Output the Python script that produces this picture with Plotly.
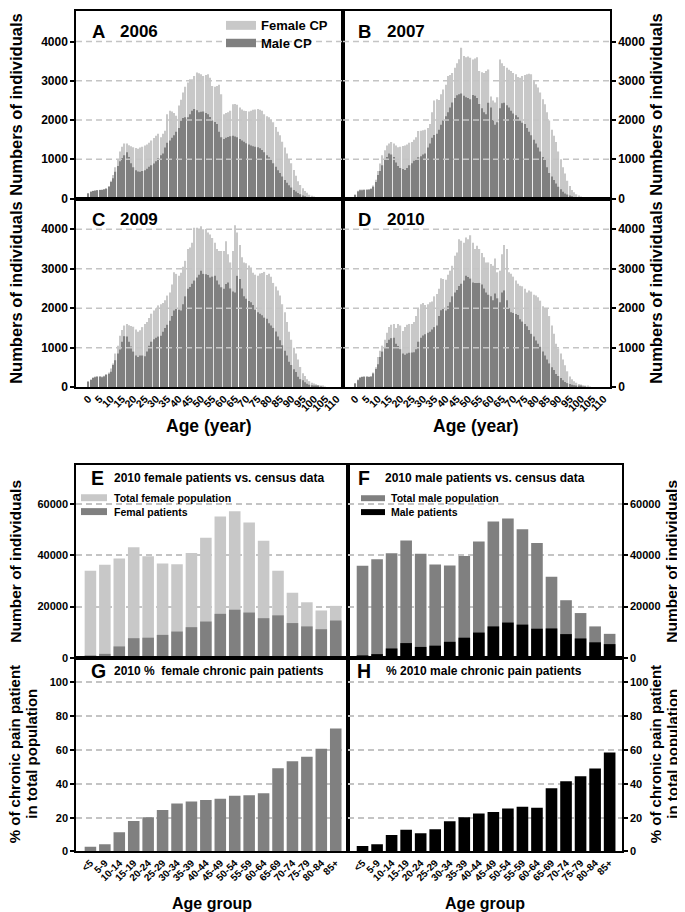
import plotly.graph_objects as go

W, H = 685, 912
FONT = "Liberation Sans, Arial, sans-serif"

# ---------------- data ----------------
ages = list(range(111))
age_ticks = list(range(0, 111, 5))

female_2006 = [140, 180, 200, 210, 220, 225, 230, 240, 260, 320,
               450, 600, 800, 1000, 1200, 1320, 1400, 1400, 1360, 1330,
               1310, 1290, 1270, 1300, 1320, 1350, 1380, 1420, 1480, 1540,
               1600, 1650, 1560, 1650, 1730, 2150, 2240, 2220, 2180, 2110,
               2370, 2520, 2700, 2850, 2960, 3040, 3040, 3120, 3210, 3190,
               3170, 3120, 3150, 3170, 3080, 2870, 2850, 2870, 2900, 2660,
               2150, 2180, 2200, 2240, 2400, 2410, 2390, 2320, 2270, 2240,
               2230, 2220, 2240, 2260, 2270, 2280, 2260, 2240, 2150, 2100,
               2070, 2000, 1945, 1820, 1700, 1610, 1450, 1300, 1145, 1000,
               900, 725, 580, 440, 345, 260, 190, 150, 95, 70,
               50, 35, 25, 15, 8, 0, 0, 0, 0, 0, 0]
male_2006 = [130, 170, 190, 200, 210, 215, 220, 230, 250, 300,
             420, 520, 680, 830, 950, 1030, 1100, 1180, 1060, 900,
             800, 720, 690, 680, 700, 720, 760, 810, 850, 890,
             950, 1030, 1100, 1150, 1300, 1420, 1480, 1550, 1610, 1700,
             1800, 1990, 2050, 2070, 2070, 2150, 2240, 2280, 2250, 2200,
             2210, 2215, 2180, 2150, 2080, 1990, 1950, 1900, 1700, 1560,
             1520, 1550, 1570, 1590, 1600, 1580, 1560, 1520, 1480, 1450,
             1410, 1380, 1350, 1330, 1320, 1310, 1280, 1240, 1180, 1100,
             1050, 980, 900, 810, 720, 650, 560, 470, 400, 340,
             280, 220, 180, 140, 110, 80, 60, 40, 30, 20,
             10, 6, 3, 0, 0, 0, 0, 0, 0, 0, 0]

female_2007 = [110, 200, 230, 230, 235, 240, 245, 260, 330, 480,
               700, 890, 1100, 1230, 1350, 1400, 1440, 1400, 1350, 1310,
               1320, 1340, 1350, 1380, 1420, 1440, 1500, 1560, 1720, 1730,
               1740, 1750, 1800, 1900, 2200, 2500, 2530, 2510, 2660, 2780,
               2900, 3125, 3150, 3200, 3330, 3450, 3550, 3840, 3630, 3600,
               3620, 3590, 3545, 3570, 3600, 3250, 3220, 3200, 3250, 3290,
               2600, 2500, 2450, 2580, 3545, 3450, 3380, 3330, 3280, 3250,
               3200, 3170, 3100, 3080, 3120, 3150, 3170, 3180, 3170, 3000,
               2910, 2830, 2700, 2530, 2400, 2200, 1990, 1750, 1600, 1440,
               1200, 1000, 800, 640, 450, 320, 220, 160, 110, 75,
               50, 30, 15, 8, 0, 0, 0, 0, 0, 0, 0]
male_2007 = [90, 180, 210, 210, 215, 220, 225, 240, 300, 420,
             600, 700, 850, 980, 1060, 1145, 1120, 1060, 920, 830,
             780, 750, 725, 780, 850, 900, 960, 1000, 1050, 1080,
             1120, 1150, 1300, 1400, 1550, 1620, 1650, 1750, 1880, 1990,
             2100, 2200, 2320, 2450, 2560, 2630, 2660, 2680, 2620, 2580,
             2560, 2530, 2640, 2620, 2560, 2410, 2300, 2200, 2150, 2440,
             2320, 2000, 1880, 1945, 2300, 2430, 2440, 2380, 2320, 2240,
             2170, 2120, 2070, 1980, 1930, 1900, 1800, 1700, 1610, 1500,
             1400, 1300, 1200, 1060, 980, 800, 650, 560, 470, 380,
             300, 235, 170, 130, 100, 75, 55, 40, 25, 15,
             8, 4, 0, 0, 0, 0, 0, 0, 0, 0, 0]

female_2009 = [150, 200, 250, 270, 280, 280, 270, 290, 330, 370,
               470, 600, 850, 1050, 1300, 1450, 1560, 1600, 1570, 1550,
               1530, 1460, 1400, 1440, 1520, 1600, 1650, 1750, 1860, 1940,
               2000, 2070, 2100, 2130, 2200, 2320, 2400, 2600, 2910, 2870,
               2820, 2900, 3050, 3200, 3500, 3540, 3660, 4040, 4040, 4000,
               4080, 4000, 4010, 3920, 3870, 3780, 3660, 3500, 3450, 3450,
               3450, 3700, 3370, 3160, 3450, 4100, 3920, 3600, 3290, 3160,
               3140, 3080, 3030, 2900, 2850, 2820, 2880, 2890, 2920, 2840,
               2870, 2800, 2640, 2550, 2450, 2320, 2100, 1900, 1650, 1400,
               1200, 1000, 850, 700, 510, 350, 280, 200, 150, 110,
               90, 70, 50, 40, 25, 10, 0, 0, 0, 0, 0]
male_2009 = [135, 180, 230, 250, 260, 260, 250, 270, 310, 340,
             390, 560, 680, 850, 950, 1150, 1290, 1280, 1150, 1030,
             900, 800, 765, 800, 800, 780, 900, 1050, 1150, 1210,
             1250, 1280, 1300, 1400, 1500, 1580, 1680, 1800, 1940, 1980,
             1960, 1940, 2100, 2300, 2490, 2540, 2620, 2700, 2780, 2850,
             2950, 2870, 2860, 2840, 2780, 2800, 2820, 2700, 2600, 2530,
             2490, 2610, 2650, 2500, 2420, 2400, 2820, 2740, 2500, 2300,
             2240, 2180, 2150, 2080, 1960, 1900, 1860, 1820, 1760, 1730,
             1620, 1560, 1500, 1410, 1280, 1190, 1060, 920, 800, 640,
             560, 450, 380, 260, 200, 170, 120, 85, 60, 45,
             35, 22, 15, 8, 0, 0, 0, 0, 0, 0, 0]

female_2010 = [100, 190, 250, 270, 275, 275, 270, 280, 370, 500,
               760, 920, 1050, 1200, 1380, 1520, 1580, 1600, 1500, 1600,
               1560, 1420, 1520, 1580, 1600, 1600, 1650, 1800, 1980, 2100,
               2130, 2080, 2100, 2150, 2170, 2300, 2360, 2490, 2760, 2740,
               2720, 2850, 2950, 3075, 3330, 3410, 3750, 3710, 3660, 3790,
               3750, 3850, 3660, 3500, 3580, 3500, 3400, 3290, 3160, 3160,
               3120, 3075, 3260, 2910, 2950, 3370, 3600, 3500, 2910, 2870,
               2800, 2700, 2620, 2570, 2555, 2490, 2400, 2450, 2420, 2340,
               2320, 2280, 2190, 2050, 2000, 1980, 1800, 1560, 1350, 1100,
               980, 850, 700, 555, 400, 270, 200, 150, 110, 80,
               65, 45, 35, 20, 10, 0, 0, 0, 0, 0, 0]
male_2010 = [90, 175, 235, 255, 260, 260, 255, 260, 345, 460,
             580, 760, 900, 1000, 1120, 1200, 1240, 1250, 1100, 1040,
             960, 850, 820, 850, 870, 875, 880, 960, 1150, 1250,
             1310, 1340, 1380, 1400, 1460, 1520, 1560, 1800, 1950, 1980,
             1940, 2050, 2150, 2300, 2400, 2460, 2560, 2620, 2700, 2820,
             2790, 2750, 2650, 2640, 2640, 2640, 2600, 2500, 2400, 2340,
             2300, 2200, 2370, 2250, 2150, 2400, 2450, 2200, 2000, 1900,
             1880, 1850, 1830, 1720, 1660, 1600, 1540, 1450, 1350, 1280,
             1180, 1100, 1020, 900, 800, 700, 600, 500, 430, 330,
             280, 230, 170, 130, 100, 80, 60, 45, 30, 20,
             15, 8, 4, 0, 0, 0, 0, 0, 0, 0, 0]

age_groups = ["<5", "5-9", "10-14", "15-19", "20-24", "25-29", "30-34", "35-39",
              "40-44", "45-49", "50-54", "55-59", "60-64", "65-69", "70-74",
              "75-79", "80-84", "85+"]
female_population_2010 = [34000, 36300, 38800, 43100, 39600, 36800, 36500, 40900, 46800,
                          55100, 57200, 52800, 45700, 34000, 25400, 21700, 18500, 20300]
female_patients_2010 = [1000, 1600, 4500, 7700, 7900, 9000, 10300, 12000, 14200,
                        17200, 18800, 17700, 15500, 16600, 13600, 12300, 11200, 14600]
male_population_2010 = [35900, 38500, 40800, 45800, 40600, 36400, 36000, 39700, 45400,
                        53200, 54300, 50100, 44800, 31600, 22500, 17500, 12300, 9400]
male_patients_2010 = [1000, 1500, 3700, 5800, 4300, 4800, 6300, 7900, 9900,
                      12300, 13800, 13000, 11400, 11500, 9300, 7600, 6100, 5400]
female_pct_2010 = [2.8, 4.3, 11.4, 18.1, 20.2, 24.6, 28.4, 29.5, 30.4,
                   31.2, 33.0, 33.3, 34.4, 49.3, 53.4, 56.0, 60.8, 72.7]
male_pct_2010 = [3.3, 4.3, 9.8, 12.9, 10.8, 13.2, 17.9, 20.2, 22.4,
                 23.4, 25.5, 26.4, 25.9, 37.4, 41.6, 44.5, 49.1, 58.5]

top_ticks = [0, 1000, 2000, 3000, 4000]
census_ticks = [0, 20000, 40000, 60000]
pct_ticks = [0, 20, 40, 60, 80, 100]

# ---------------- styling ----------------
LIGHT = "#c8c8c8"
DARK = "#808080"
BLACK = "#000000"
GRID = "#c4c4c4"
ROT_SHIFT = 10  # compensation for rotated annotation placement


def px(x):
    return x / W


def py(y):
    return 1 - y / H


fig = go.Figure()

# panel geometry in pixels: (left, right, top, bottom)
panels = {
    1: (68, 335, 3, 192),
    2: (335, 602, 3, 192),
    3: (68, 335, 192, 382),
    4: (335, 602, 192, 382),
    5: (68, 340, 461, 655),
    6: (340, 614, 461, 655),
    7: (68, 340, 655, 850),
    8: (340, 614, 655, 850),
}

top_data = {1: (female_2006, male_2006), 2: (female_2007, male_2007),
            3: (female_2009, male_2009), 4: (female_2010, male_2010)}

for k, (fem, mal) in top_data.items():
    sfx = "" if k == 1 else str(k)
    fig.add_trace(go.Bar(x=ages, y=fem, marker=dict(color=LIGHT, line=dict(width=0)),
                         width=0.56, xaxis="x" + sfx, yaxis="y" + sfx, name="Female CP"))
    fig.add_trace(go.Bar(x=ages, y=mal, marker=dict(color=DARK, line=dict(width=0)),
                         width=0.56, xaxis="x" + sfx, yaxis="y" + sfx, name="Male CP"))

fig.add_trace(go.Bar(x=age_groups, y=female_population_2010, marker=dict(color=LIGHT, line=dict(width=0)),
                     width=0.8, xaxis="x5", yaxis="y5", name="Total female population"))
fig.add_trace(go.Bar(x=age_groups, y=female_patients_2010, marker=dict(color=DARK, line=dict(width=0)),
                     width=0.8, xaxis="x5", yaxis="y5", name="Femal patients"))
fig.add_trace(go.Bar(x=age_groups, y=male_population_2010, marker=dict(color=DARK, line=dict(width=0)),
                     width=0.8, xaxis="x6", yaxis="y6", name="Total male population"))
fig.add_trace(go.Bar(x=age_groups, y=male_patients_2010, marker=dict(color=BLACK, line=dict(width=0)),
                     width=0.8, xaxis="x6", yaxis="y6", name="Male patients"))
fig.add_trace(go.Bar(x=age_groups, y=female_pct_2010, marker=dict(color=DARK, line=dict(width=0)),
                     width=0.8, xaxis="x7", yaxis="y7", name="female %"))
fig.add_trace(go.Bar(x=age_groups, y=male_pct_2010, marker=dict(color=BLACK, line=dict(width=0)),
                     width=0.8, xaxis="x8", yaxis="y8", name="male %"))

layout = dict(
    width=W, height=H, margin=dict(l=0, r=0, t=0, b=0),
    paper_bgcolor="white", plot_bgcolor="white",
    barmode="overlay", showlegend=False,
    font=dict(family=FONT, color="black", weight="bold"),
)

for k, (l, r, t, b) in panels.items():
    sfx = "" if k == 1 else str(k)
    xa = dict(domain=[px(l), px(r)], anchor="y" + sfx, showline=True, linecolor="black",
              linewidth=1.5, mirror=True, showgrid=False, zeroline=False, fixedrange=True)
    ya = dict(domain=[py(b), py(t)], anchor="x" + sfx, showline=True, linecolor="black",
              linewidth=1.5, mirror=True, zeroline=False, fixedrange=True,
              ticks="outside", ticklen=4, tickwidth=1.5, tickcolor="black",
              side="left" if k % 2 == 1 else "right", tickformat="d")
    if k <= 4:
        xa.update(range=[-5.5, 112.8], showticklabels=(k >= 3), tickmode="array",
                  tickvals=age_ticks, ticktext=[str(a) for a in age_ticks],
                  tickangle=-45, tickfont=dict(size=10.5, family=FONT, weight="bold"), ticks="")
        ya.update(range=[0, 4780], tickmode="array", tickvals=top_ticks,
                  tickfont=dict(size=12, family=FONT, weight="bold"), showgrid=False)
    else:
        xa.update(type="category", range=[-1.0, 17.85], showticklabels=(k >= 7), ticks="",
                  tickangle=-45, tickfont=dict(size=10, family=FONT, weight="bold"))
        if k <= 6:
            ya.update(range=[0, 75000], tickmode="array", tickvals=census_ticks)
        else:
            ya.update(range=[0, 114.5], tickmode="array", tickvals=pct_ticks)
        ya.update(tickfont=dict(size=11, family=FONT, weight="bold"), showgrid=True,
                  gridcolor=GRID, gridwidth=1.5, griddash="6px,4px")
    layout["xaxis" + sfx] = xa
    layout["yaxis" + sfx] = ya

fig.update_layout(**layout)

# dashed grid lines drawn over the bars in the top panels
shapes = []
for k in range(1, 5):
    sfx = "" if k == 1 else str(k)
    for v in top_ticks[1:]:
        shapes.append(dict(type="line", xref="x" + sfx + " domain", x0=0, x1=1,
                           yref="y" + sfx, y0=v, y1=v, layer="above",
                           line=dict(color=GRID, width=1.5, dash="6px,4px")))


def swatch(x0, x1, y0, y1, color):
    shapes.append(dict(type="rect", xref="paper", yref="paper", x0=px(x0), x1=px(x1),
                       y0=py(y1), y1=py(y0), fillcolor=color, line=dict(width=0), layer="above"))


swatch(218, 248, 13, 22, LIGHT)
swatch(218, 248, 31, 39.5, DARK)
swatch(73, 99, 490, 497, LIGHT)
swatch(73, 99, 504, 511, DARK)
swatch(353, 377, 491, 497, DARK)
swatch(353, 377, 505, 511, BLACK)
fig.update_layout(shapes=shapes)

ann = []


def text(x, y, s, size, xanchor="left", angle=0):
    if angle:
        x = x - ROT_SHIFT
    ann.append(dict(x=px(x), y=py(y), xref="paper", yref="paper", text=s, showarrow=False,
                    xanchor=xanchor, yanchor="middle", textangle=angle,
                    font=dict(size=size, family=FONT, color="black", weight="bold")))


# legends
text(251, 17.5, "Female CP", 13)
text(251, 35.5, "Male CP", 13)
text(104, 493.5, "Total female population", 10.5)
text(104, 507.5, "Femal patients", 10.5)
text(381, 494, "Total male population", 10.5)
text(381, 508, "Male patients", 10.5)

# panel labels
for (lx, ly, letter, yx, year) in [(82, 23.5, "A", 110, "2006"), (348, 23.5, "B", 377, "2007"),
                                    (82, 213.5, "C", 110, "2009"), (348, 213.5, "D", 377, "2010")]:
    text(lx, ly, letter, 18.5)
    text(yx, ly, year, 17)
text(81, 474, "E", 19.5)
text(104, 474, "2010 female patients vs. census data", 12)
text(348, 474, "F", 19.5)
text(375, 474, "2010 male patients vs. census data", 12)
text(81, 668, "G", 19.5)
text(104, 668, "2010 %  female chronic pain patients", 12)
text(347, 668, "H", 19.5)
text(376, 668, "% 2010 male chronic pain patients", 12)

# axis titles
text(18, 97.5, "Numbers of individuals", 16.5, "center", -90)
text(18, 287, "Numbers of individuals", 16.5, "center", -90)
text(658, 97.5, "Numbers of individuals", 16.5, "center", -90)
text(658, 287, "Numbers of individuals", 16.5, "center", -90)
text(201, 421, "Age (year)", 17.5, "center")
text(468, 421, "Age (year)", 17.5, "center")
text(18, 558, "Number of individuals", 15.5, "center", -90)
text(674, 558, "Number of individuals", 15.5, "center", -90)
text(16, 752, "% of chronic pain patient", 15, "center", -90)
text(33.5, 752, "in total population", 15, "center", -90)
text(657, 752, "% of chronic pain patient", 15, "center", -90)
text(674.5, 752, "in total population", 15, "center", -90)
text(204, 902, "Age group", 16, "center")
text(477, 902, "Age group", 16, "center")

fig.update_layout(annotations=ann)
fig.write_html("out.html")
